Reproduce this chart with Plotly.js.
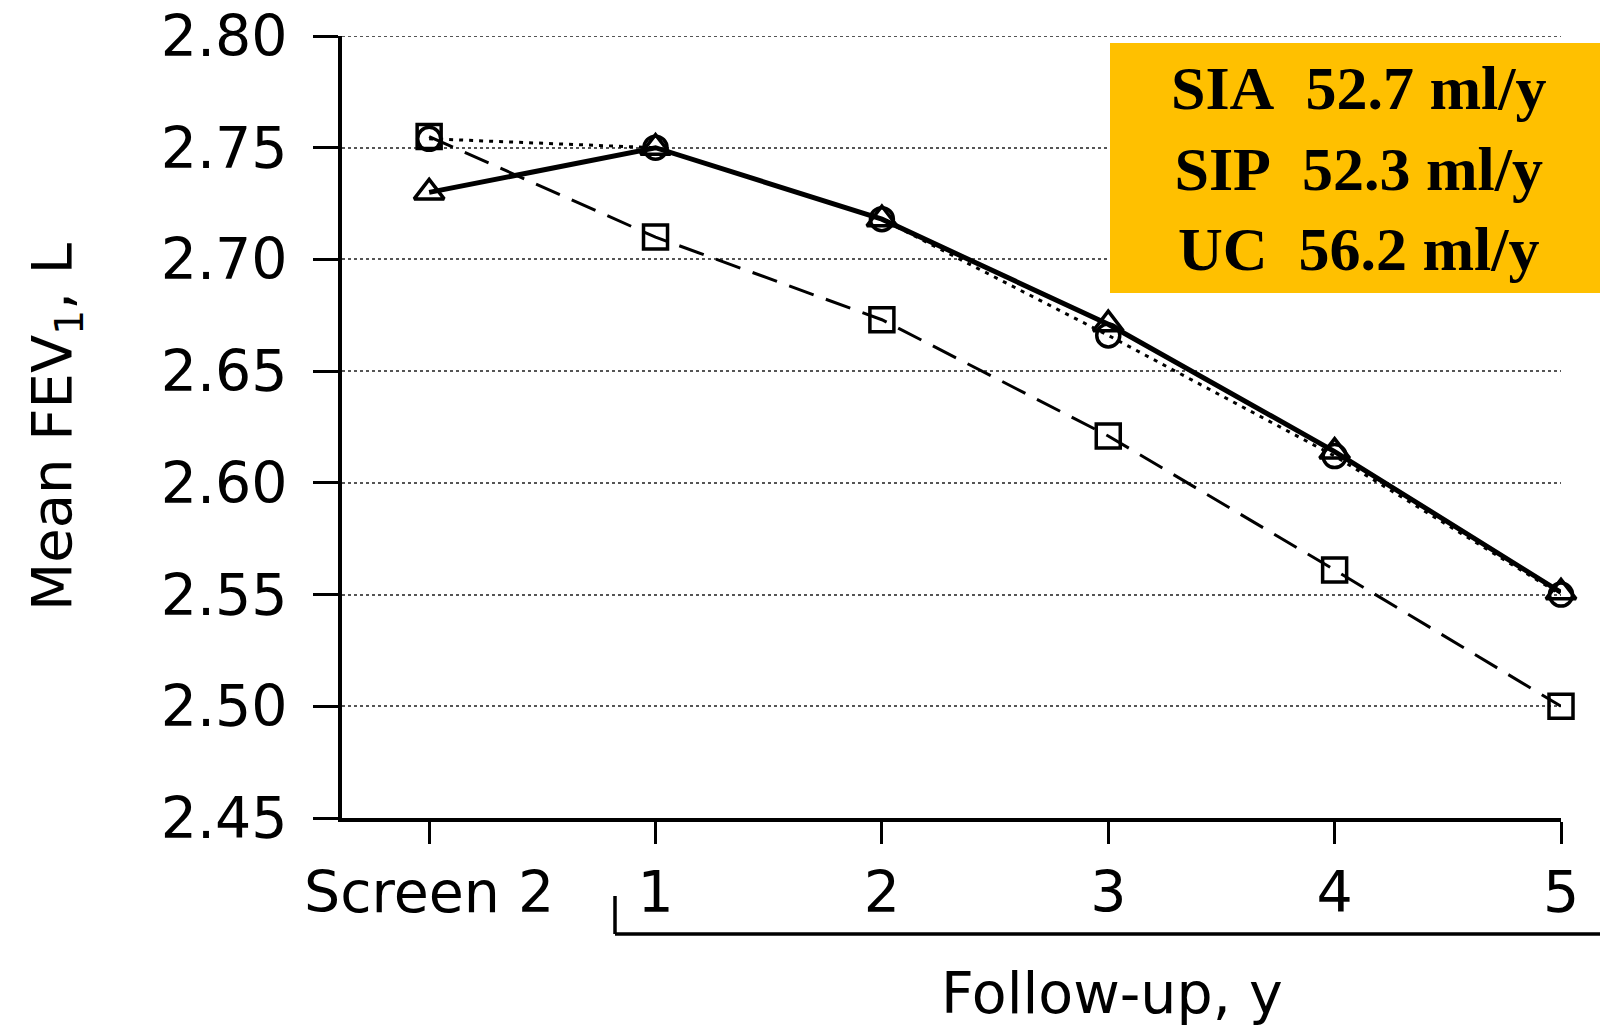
<!DOCTYPE html>
<html>
<head>
<meta charset="utf-8">
<script src="https://cdn.plot.ly/plotly-3.0.1.min.js"></script>
<style>html,body{margin:0;padding:0;background:#fff;}#chart{width:1600px;height:1033px;}</style>
</head>
<body>
<div id="chart"></div>
<script>
// Data
const categories = ["Screen 2", "1", "2", "3", "4", "5"];
const siaValues = [2.730, 2.750, 2.718, 2.671, 2.614, 2.551];
const sipValues = [2.754, 2.750, 2.718, 2.666, 2.612, 2.550];
const ucValues  = [2.755, 2.710, 2.673, 2.621, 2.561, 2.500];
const yTickVals = [2.45, 2.50, 2.55, 2.60, 2.65, 2.70, 2.75, 2.80];
const yTickText = ["2.45", "2.50", "2.55", "2.60", "2.65", "2.70", "2.75", "2.80"];
const rateLines = ["SIA\u00a0\u00a052.7 ml/y", "SIP\u00a0\u00a052.3 ml/y", "UC\u00a0\u00a056.2 ml/y"];
const xTitle = "Follow-up, y";
const yTitle = "Mean FEV<sub>1</sub>, L";

const sans = "DejaVu Sans, Liberation Sans, Arial, sans-serif";

const traces = [
  {
    name: "UC", x: categories, y: ucValues, type: "scatter", mode: "lines+markers",
    line: {color: "#000", width: 3, dash: "26px,13px"},
    marker: {symbol: "square-open", size: 24, color: "#000", line: {width: 3.5, color: "#000"}},
    cliponaxis: false
  },
  {
    name: "SIP", x: categories, y: sipValues, type: "scatter", mode: "lines+markers",
    line: {color: "#000", width: 3, dash: "4px,6px"},
    marker: {symbol: "circle-open", size: 23, color: "#000", line: {width: 3.5, color: "#000"}},
    cliponaxis: false
  },
  {
    name: "SIA", x: categories, y: siaValues, type: "scatter", mode: "lines+markers",
    line: {color: "#000", width: 5},
    marker: {symbol: "triangle-up-open", size: 26, color: "#000", line: {width: 3.5, color: "#000"}},
    cliponaxis: false
  }
];

const layout = {
  width: 1600, height: 1033,
  margin: {l: 342, r: 39, t: 36, b: 215},
  paper_bgcolor: "#fff", plot_bgcolor: "#fff",
  showlegend: false,
  font: {family: sans, color: "#000"},
  xaxis: {
    type: "category",
    range: [-0.385, 5.0],
    showline: true, linecolor: "#000", linewidth: 4,
    ticks: "outside", ticklen: 22, tickwidth: 3, tickcolor: "#000",
    ticklabelstandoff: 0,
    tickfont: {family: sans, size: 57, color: "#000"},
    showgrid: false, zeroline: false
  },
  yaxis: {
    range: [2.45, 2.80],
    tickvals: yTickVals, ticktext: yTickText,
    showline: true, linecolor: "#000", linewidth: 4,
    ticks: "outside", ticklen: 25, tickwidth: 3, tickcolor: "#000",
    ticklabelstandoff: 14,
    tickfont: {family: sans, size: 57, color: "#000"},
    showgrid: true, gridcolor: "#555", gridwidth: 2, griddash: "dot",
    zeroline: false,
    title: {text: yTitle, font: {family: sans, size: 56, color: "#000"}, standoff: 72}
  },
  shapes: [
    {type: "line", xref: "paper", yref: "y",
     x0: 0, x1: 1, y0: 2.80, y1: 2.80,
     line: {color: "#555", width: 2, dash: "dot"}, layer: "below"},
    {type: "rect", xref: "paper", yref: "paper",
     x0: (1110 - 342) / 1219, x1: (1600 - 342) / 1219,
     y0: (818 - 293) / 782, y1: (818 - 43) / 782,
     fillcolor: "#FFC000", line: {width: 0}, layer: "above"},
    {type: "line", xref: "paper", yref: "paper",
     x0: (615 - 342) / 1219, x1: (615 - 342) / 1219,
     y0: (818 - 896) / 782, y1: (818 - 934) / 782,
     line: {color: "#000", width: 3.5}},
    {type: "line", xref: "paper", yref: "paper",
     x0: (615 - 342) / 1219, x1: (1600 - 342) / 1219,
     y0: (818 - 934) / 782, y1: (818 - 934) / 782,
     line: {color: "#000", width: 3.5}}
  ],
  annotations: [
    {xref: "paper", yref: "paper",
     x: (1358 - 342) / 1219, y: (818 - 168) / 782,
     xanchor: "center", yanchor: "middle",
     text: rateLines.join("<br>"), showarrow: false, align: "center",
     font: {family: "Liberation Serif, Times New Roman, serif", size: 62, color: "#000", weight: "bold"}},
    {xref: "paper", yref: "paper",
     x: (1112 - 342) / 1219, y: (818 - 993) / 782,
     xanchor: "center", yanchor: "middle",
     text: xTitle, showarrow: false,
     font: {family: sans, size: 57, color: "#000"}}
  ]
};

Plotly.newPlot("chart", traces, layout, {displayModeBar: false, staticPlot: true});
</script>
</body>
</html>
